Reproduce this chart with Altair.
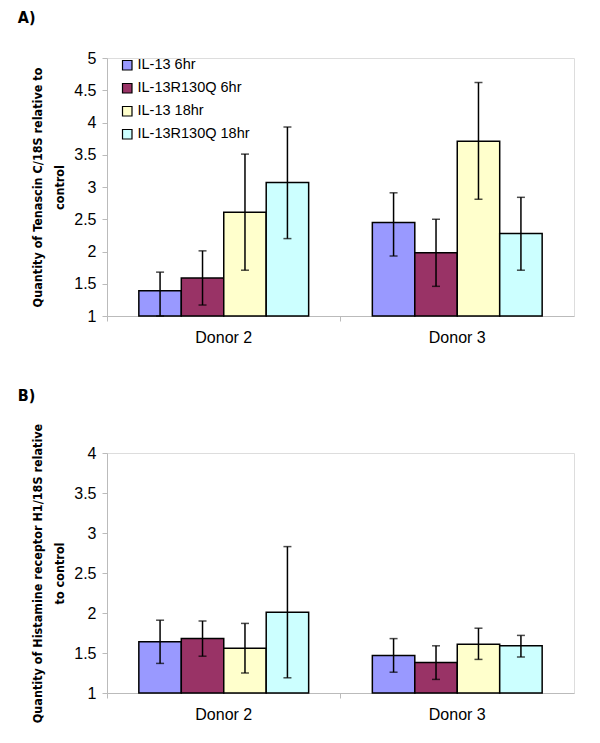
import altair as alt
import pandas as pd

donors = ["Donor 2", "Donor 3"]
treatments = ["IL-13 6hr", "IL-13R130Q 6hr", "IL-13 18hr", "IL-13R130Q 18hr"]
colors = ["#9999FF", "#993366", "#FFFFCC", "#CCFFFF"]

# Panel A: Tenascin C
a_mean = [[1.39, 1.59, 2.61, 3.07], [2.45, 1.98, 3.71, 2.28]]
a_low = [[1.00, 1.17, 1.71, 2.20], [1.93, 1.46, 2.81, 1.71]]
a_high = [[1.68, 2.01, 3.51, 3.93], [2.91, 2.50, 4.62, 2.84]]

# Panel B: Histamine receptor H1
b_mean = [[1.64, 1.68, 1.56, 2.01], [1.47, 1.38, 1.61, 1.59]]
b_low = [[1.37, 1.46, 1.25, 1.19], [1.26, 1.17, 1.42, 1.45]]
b_high = [[1.91, 1.90, 1.87, 2.83], [1.68, 1.59, 1.81, 1.72]]

a_ticks = [1, 1.5, 2, 2.5, 3, 3.5, 4, 4.5, 5]
b_ticks = [1, 1.5, 2, 2.5, 3, 3.5, 4]

FONT = "Liberation Sans, Arial, sans-serif"
NARROW = "Liberation Sans Narrow, Arial Narrow, DejaVu Sans Condensed, Liberation Sans, sans-serif"


def frame(mean, low, high):
    rows = []
    for i, d in enumerate(donors):
        for j, t in enumerate(treatments):
            rows.append({"donor": d, "treatment": t, "value": mean[i][j],
                         "low": low[i][j], "high": high[i][j]})
    return pd.DataFrame(rows)


def panel(df, ymax, ticks, ytitle, label, w, h, toff):
    x = alt.X("donor:N", sort=donors, title=None,
              scale=alt.Scale(paddingInner=0, paddingOuter=0),
              axis=alt.Axis(labelAngle=0, labelFontSize=16, labelFont=FONT,
                            labelColor="#000", domainColor="#bbbbbb",
                            tickColor="#bbbbbb", tickSize=5, labelPadding=8,
                            bandPosition=0))
    xo = alt.XOffset("treatment:N", sort=treatments,
                     scale=alt.Scale(paddingInner=0, paddingOuter=0.75))
    yscale = alt.Scale(domain=[1, ymax], zero=False, nice=False)
    yaxis = alt.Axis(values=ticks, format="~g", labelOverlap=False, grid=False,
                     labelFontSize=16, labelFont=FONT, labelColor="#000",
                     domainColor="#bbbbbb", tickColor="#bbbbbb",
                     tickSize=5, labelPadding=6,
                     titleFont=NARROW, titleFontSize=12.5,
                     titleFontWeight="bold", titleColor="#000",
                     titlePadding=7, titleLineHeight=22)
    bars = alt.Chart(df).mark_bar(stroke="black", strokeWidth=1.5).encode(
        x=x, xOffset=xo,
        y=alt.Y("value:Q", scale=yscale, title=ytitle, axis=yaxis),
        y2=alt.datum(1),
        color=alt.Color("treatment:N", sort=treatments,
                        scale=alt.Scale(domain=treatments, range=colors),
                        legend=alt.Legend(title=None, orient="none",
                                          legendX=13, legendY=0,
                                          symbolType="square", symbolSize=90,
                                          symbolStrokeColor="black",
                                          symbolStrokeWidth=1.2,
                                          labelFontSize=14.5, labelFont=FONT,
                                          labelColor="#000", rowPadding=7,
                                          labelOffset=3)),
    )
    rule = alt.Chart(df).mark_rule(color="black", strokeWidth=1.5).encode(
        x=x, xOffset=xo, y=alt.Y("low:Q", scale=yscale, axis=yaxis, title=ytitle),
        y2="high:Q")
    cap_hi = alt.Chart(df).mark_tick(color="black", thickness=1.5, size=8,
                                     orient="horizontal").encode(
        x=x, xOffset=xo, y=alt.Y("high:Q", scale=yscale, axis=yaxis, title=ytitle))
    cap_lo = alt.Chart(df).mark_tick(color="black", thickness=1.5, size=8,
                                     orient="horizontal").encode(
        x=x, xOffset=xo, y=alt.Y("low:Q", scale=yscale, axis=yaxis, title=ytitle))
    return alt.layer(bars, rule, cap_hi, cap_lo).properties(
        width=w, height=h,
        title=alt.TitleParams(label, anchor="start", frame="bounds",
                              font=NARROW, fontSize=16, fontWeight="bold",
                              color="#000", offset=toff, dx=-14))


chart_a = panel(frame(a_mean, a_low, a_high), 5, a_ticks,
                ["Quantity of Tenascin C/18S relative to", "control"],
                "A)", 467, 258, 24)
chart_b = panel(frame(b_mean, b_low, b_high), 4, b_ticks,
                ["Quantity of Histamine receptor H1/18S relative", "to control"],
                "B)", 467, 240, 19)

chart = alt.vconcat(chart_a, chart_b, spacing=41).configure_view(
    stroke=None).configure(padding={"left": 9, "top": 1, "right": 5, "bottom": 2},
                           background="white")

chart.save("out.html", embed_options={"renderer": "svg", "actions": False})
